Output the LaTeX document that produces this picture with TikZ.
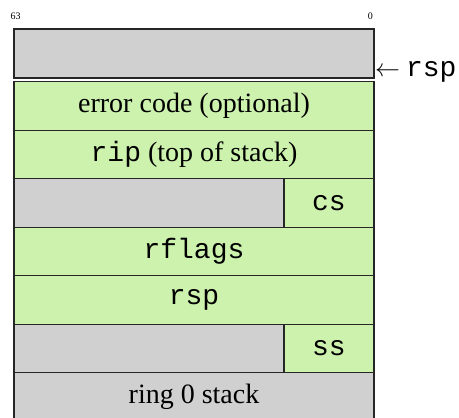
\documentclass[tikz,border=0pt]{standalone}
\usepackage{fontspec}
\setmainfont{Liberation Serif}
\setmonofont{Liberation Mono}
\definecolor{padgray}{RGB}{207,208,207}
\definecolor{fieldgreen}{RGB}{205,242,174}
\begin{document}
\begin{tikzpicture}[x=1pt,y=-1pt,
  cell/.style={draw=black!85, line width=1.4pt, inner sep=0pt, outer sep=0pt,
    font=\fontsize{28}{30}\selectfont},
  pad/.style={cell, fill=padgray},
  field/.style={cell, fill=fieldgreen},
  full/.style={minimum width=360pt, minimum height=48.5pt},
  part/.style={minimum width=90pt, minimum height=48.5pt},
  rest/.style={minimum width=270pt, minimum height=48.5pt},
  bitno/.style={font=\fontsize{10}{12}\selectfont, inner sep=0pt}]
\useasboundingbox (0,0) rectangle (459,418);
\clip (0,0) rectangle (459,418);
% unused slot below the current stack pointer
\node[pad, full, minimum height=49pt] (free) at (194,53.5) {};
% interrupt frame pushed by the processor
\node[field, full] (err) at (194,106) {error code (optional)};
\node[field, full] (rip) at (194,154.5) {\texttt{rip} (top of stack)};
\node[pad, rest] (cspad) at (149,203) {};
\node[field, part] (cs) at (329,203) {\texttt{cs}};
\node[field, full] (rflags) at (194,251.5) {\texttt{rflags}};
\node[field, full] (rsp) at (194,300) {\texttt{rsp}};
\node[pad, rest] (sspad) at (149,348.5) {};
\node[field, part] (ss) at (329,348.5) {\texttt{ss}};
\node[pad, full] (ring) at (194,397) {ring 0 stack};
% bit numbers
\node[bitno, anchor=west] (hi) at (10.5,16) {63};
\node[bitno, anchor=east] (lo) at (373,16) {0};
% stack pointer marker
\node[anchor=west, inner sep=0pt, font=\fontsize{28}{30}\selectfont] (sp)
  at ([xshift=1pt,yshift=6pt]free.south east) {$\leftarrow$\hspace{6pt}\texttt{rsp}};
\end{tikzpicture}
\end{document}
